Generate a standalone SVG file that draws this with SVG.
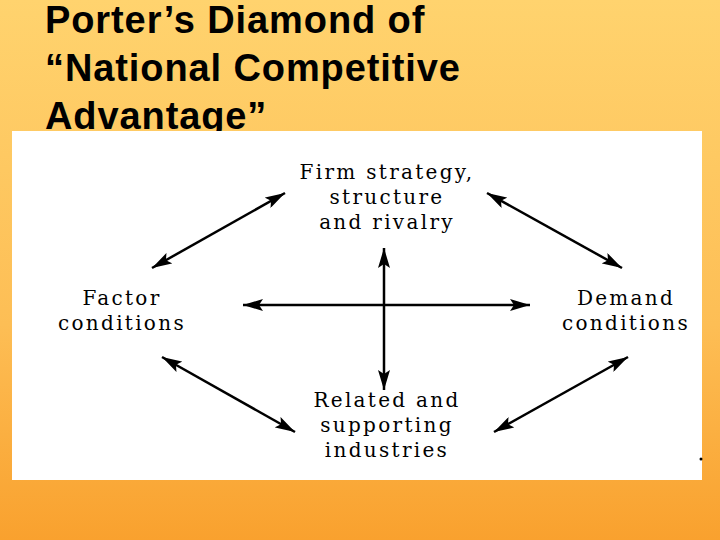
<svg xmlns="http://www.w3.org/2000/svg" width="720" height="540" viewBox="0 0 720 540">
<defs>
<linearGradient id="bg" x1="0" y1="0" x2="0" y2="1">
<stop offset="0" stop-color="#FFD36E"/>
<stop offset="0.6" stop-color="#FDBE55"/>
<stop offset="1" stop-color="#F9A12E"/>
</linearGradient>
<marker id="a" viewBox="0 0 20 12" refX="20" refY="6" markerWidth="20" markerHeight="12" orient="auto-start-reverse" markerUnits="userSpaceOnUse">
<path d="M0,0 L20,6 L0,12 L4,6 Z" fill="#000"/>
</marker>
</defs>
<style>
.t{font-family:"Liberation Sans",Arial,sans-serif;font-weight:bold;font-size:38px;letter-spacing:0.9px;fill:#000}
.n{font-family:"DejaVu Serif","Liberation Serif",serif;font-size:20px;letter-spacing:2.3px;fill:#000;text-anchor:middle}
.c{stroke:#000;stroke-width:2.5;fill:none;marker-start:url(#a);marker-end:url(#a)}
</style>
<rect width="720" height="540" fill="url(#bg)"/>
<text class="t" x="45" y="33">Porter’s Diamond of</text>
<text class="t" x="45" y="81">“National Competitive</text>
<text class="t" x="45" y="129">Advantage”</text>
<rect x="12" y="131" width="690" height="349" fill="#fff"/>
<g id="connectors">
<line class="c" x1="152" y1="268" x2="285" y2="193"/>
<line class="c" x1="487" y1="193" x2="622" y2="268"/>
<line class="c" x1="162" y1="357" x2="295" y2="432"/>
<line class="c" x1="494" y1="432" x2="628" y2="357"/>
<line class="c" x1="243" y1="305" x2="530" y2="305"/>
<line class="c" x1="384" y1="248" x2="384" y2="390"/>
</g>
<g id="firm"><text class="n" x="387" y="179">Firm strategy,</text><text class="n" x="387" y="204">structure</text><text class="n" x="387" y="229">and rivalry</text></g>
<g id="factor"><text class="n" x="122" y="305">Factor</text><text class="n" x="122" y="330">conditions</text></g>
<g id="demand"><text class="n" x="626" y="305">Demand</text><text class="n" x="626" y="330">conditions</text></g>
<g id="related"><text class="n" x="387" y="407">Related and</text><text class="n" x="387" y="432">supporting</text><text class="n" x="387" y="457">industries</text></g>
<circle cx="701" cy="459" r="1.5" fill="#000"/>
</svg>
